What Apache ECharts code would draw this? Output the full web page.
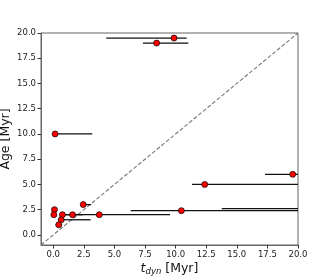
<!DOCTYPE html>
<html><head><meta charset="utf-8">
<script src="https://cdn.jsdelivr.net/npm/echarts@6/dist/echarts.min.js"></script>
<style>html,body{margin:0;padding:0;background:#fff}#c{width:331px;height:276px}</style>
</head><body><div id="c"></div>
<script>
const tdyn = [9.87, 8.45, 0.15, 19.57, 12.38, 2.45, 10.47, 0.10, 0.05, 0.75, 1.58, 3.76, 0.65, 0.45, 22.0];
const age  = [19.5, 19.0, 10.0, 6.0, 5.0, 3.0, 2.4, 2.5, 2.0, 2.0, 2.0, 2.0, 1.5, 1.0, 2.6];
const xLow = [4.33, 7.33, 0.15, 17.3, 11.34, 2.45, 6.33, 0.10, 0.05, 0.75, 0.75, 1.0, 0.65, 0.20, 13.77];
const xHigh= [10.9, 11.04, 3.19, 21.8, 24.0, 3.10, 30.0, 0.10, 0.05, 0.75, 2.4, 9.54, 3.06, 0.70, 30.0];
const tickVals = [0, 2.5, 5, 7.5, 10, 12.5, 15, 17.5, 20];
const diag = [[-1, -1], [20, 20]];

const points = tdyn.map((t, i) => [t, age[i]]);
const bars = tdyn.map((t, i) => [xLow[i], xHigh[i], age[i]]);

const chart = echarts.init(document.getElementById('c'));
const fmt = v => v.toFixed(1);
const axisCommon = {
  min: -1, max: 20,
  axisLine: {show: true, onZero: false, lineStyle: {color: '#666', width: 1}},
  axisTick: {show: true, length: 3.5, lineStyle: {color: '#333'}, customValues: tickVals},
  axisLabel: {color: '#222', fontSize: 8.5, fontFamily: 'DejaVu Sans', formatter: fmt, customValues: tickVals},
  splitLine: {show: false},
  nameMoveOverlap: false
};
chart.setOption({
  animation: false,
  grid: {left: 41, right: 33, top: 33, bottom: 31, show: true, borderColor: '#666', borderWidth: 1,
         containLabel: false, outerBoundsMode: 'none'},
  xAxis: Object.assign({}, axisCommon, {
    type: 'value',
    axisLabel: Object.assign({}, axisCommon.axisLabel, {margin: 5}),
    name: '{i|t}{s|dyn}{n| [Myr]}', nameLocation: 'middle', nameGap: 16,
    nameTextStyle: {
      rich: {
        i: {fontSize: 12.5, fontStyle: 'italic', fontFamily: 'DejaVu Sans', color: '#111'},
        s: {fontSize: 8.5, fontStyle: 'italic', fontFamily: 'DejaVu Sans', color: '#111', padding: [6, 0, 0, 0]},
        n: {fontSize: 12.5, fontFamily: 'DejaVu Sans', color: '#111'}
      }
    }
  }),
  yAxis: Object.assign({}, axisCommon, {
    type: 'value',
    axisLabel: Object.assign({}, axisCommon.axisLabel, {margin: 5}),
    name: 'Age [Myr]', nameLocation: 'middle', nameGap: 29,
    nameTextStyle: {fontSize: 12.5, fontFamily: 'DejaVu Sans', color: '#111'}
  }),
  series: [
    {
      type: 'line', data: diag, symbol: 'none', silent: true, z: 1,
      lineStyle: {color: '#777', width: 1.1, type: [4, 2]}
    },
    {
      type: 'custom', data: bars, clip: true, z: 2,
      renderItem: (params, api) => {
        const a = api.coord([api.value(0), api.value(2)]);
        const b = api.coord([api.value(1), api.value(2)]);
        return {type: 'line', shape: {x1: a[0], y1: a[1], x2: b[0], y2: b[1]},
                style: {stroke: '#111', lineWidth: 1.3}};
      }
    },
    {
      type: 'scatter', data: points, clip: true, z: 3, symbolSize: 6,
      itemStyle: {color: '#ff0000', borderColor: '#000', borderWidth: 0.7, opacity: 1}
    }
  ]
});
</script></body></html>
